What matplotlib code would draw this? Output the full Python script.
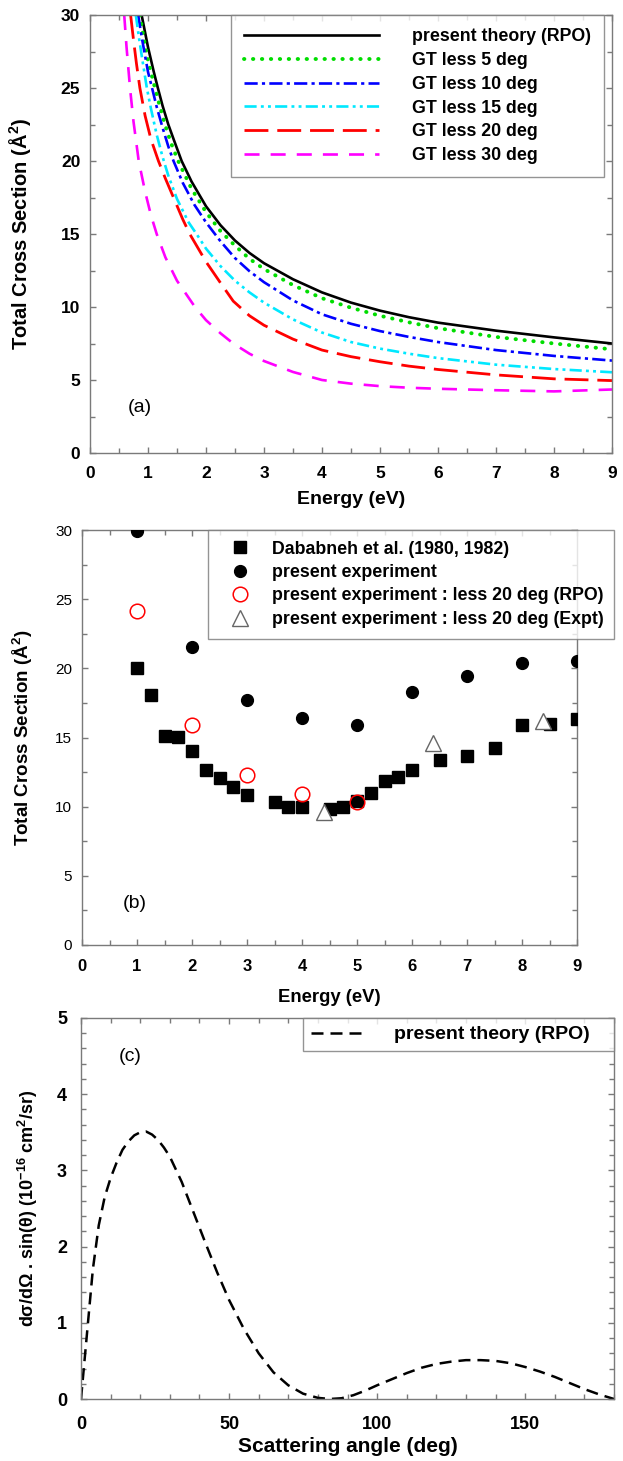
import numpy as np
import matplotlib
matplotlib.use("Agg")
import matplotlib.pyplot as plt
from matplotlib.ticker import MultipleLocator

plt.rcParams['font.family'] = ['Liberation Sans', 'DejaVu Sans']
plt.rcParams['mathtext.fontset'] = 'custom'
plt.rcParams['mathtext.rm'] = 'Liberation Sans'
plt.rcParams['mathtext.bf'] = 'Liberation Sans:bold'
plt.rcParams['mathtext.it'] = 'Liberation Sans:italic'

# ---- panel (a): total cross section, theory curves
e_rpo = [0.89, 0.95, 1.0, 1.1, 1.17, 1.25, 1.35, 1.45, 1.58, 1.75, 2.0, 2.25, 2.5, 2.75, 3.0,
         3.5, 4.0, 4.5, 5.0, 5.5, 6.0, 7.0, 8.0, 9.0]
cs_rpo = [30.0, 28.8, 27.8, 26.1, 25.0, 23.8, 22.5, 21.4, 20.0, 18.6, 16.9, 15.6, 14.55, 13.7,
          13.0, 11.9, 11.0, 10.3, 9.75, 9.3, 8.93, 8.38, 7.92, 7.5]

e_gt5 = [0.86, 0.9, 0.95, 1.0, 1.12, 1.2, 1.3, 1.4, 1.52, 1.75, 2.0, 2.25, 2.5, 2.75, 3.0, 3.5,
         4.0, 4.5, 5.0, 5.5, 6.0, 7.0, 8.0, 9.0]
cs_gt5 = [30.0, 29.0, 27.9, 26.9, 25.0, 23.8, 22.4, 21.2, 20.0, 18.1, 16.5, 15.2, 14.2, 13.3,
          12.6, 11.5, 10.6, 9.95, 9.4, 8.95, 8.55, 7.95, 7.5, 7.1]

e_gt10 = [0.83, 0.9, 1.0, 1.07, 1.15, 1.25, 1.35, 1.44, 1.6, 1.8, 2.0, 2.25, 2.5, 2.75, 3.0,
          3.5, 4.0, 4.5, 5.0, 5.5, 6.0, 7.0, 8.0, 9.0]
cs_gt10 = [30.0, 28.3, 26.1, 25.0, 23.7, 22.3, 21.0, 20.0, 18.5, 17.0, 15.8, 14.5, 13.35, 12.45,
           11.7, 10.45, 9.5, 8.85, 8.35, 7.95, 7.6, 7.05, 6.65, 6.33]

e_gt15 = [0.79, 0.85, 0.9, 0.98, 1.05, 1.15, 1.25, 1.35, 1.5, 1.7, 1.87, 2.0, 2.25, 2.5, 2.75,
          3.0, 3.5, 4.0, 4.5, 5.0, 5.5, 6.0, 7.0, 8.0, 9.0]
cs_gt15 = [30.0, 28.3, 27.0, 25.0, 23.6, 21.8, 20.3, 19.0, 17.4, 15.8, 14.8, 14.0, 12.8, 11.8,
           11.0, 10.3, 9.15, 8.25, 7.6, 7.15, 6.8, 6.5, 6.05, 5.75, 5.53]

e_gt20 = [0.7, 0.75, 0.8, 0.86, 0.95, 1.05, 1.18, 1.3, 1.45, 1.6, 1.72, 2.0, 2.25, 2.47, 2.75,
          3.0, 3.5, 4.0, 4.5, 5.0, 5.5, 6.0, 7.0, 8.0, 9.0]
cs_gt20 = [30.0, 28.3, 26.7, 25.0, 23.1, 21.5, 20.0, 18.8, 17.4, 16.0, 15.0, 13.1, 11.65, 10.4,
           9.4, 8.75, 7.8, 7.05, 6.6, 6.25, 5.95, 5.72, 5.35, 5.08, 4.96]

e_gt30 = [0.59, 0.63, 0.69, 0.75, 0.84, 0.95, 1.05, 1.15, 1.3, 1.5, 1.81, 2.0, 2.25, 2.47, 2.75,
          3.0, 3.5, 4.0, 4.5, 5.0, 5.5, 6.0, 7.0, 8.0, 9.0]
cs_gt30 = [30.0, 27.8, 25.0, 22.7, 20.0, 17.9, 16.3, 15.0, 13.4, 11.8, 10.0, 9.1, 8.2, 7.5, 6.8,
           6.3, 5.55, 5.0, 4.75, 4.58, 4.47, 4.4, 4.3, 4.22, 4.35]

# ---- panel (b): measurements
e_dab = [1.0, 1.25, 1.5, 1.75, 2.0, 2.25, 2.5, 2.75, 3.0, 3.5, 3.75, 4.0, 4.5, 4.75,
         5.0, 5.25, 5.5, 5.75, 6.0, 6.5, 7.0, 7.5, 8.0, 8.5, 9.0]
cs_dab = [20.05, 18.05, 15.14, 15.07, 14.04, 12.64, 12.1, 11.4, 10.87, 10.36, 9.95, 9.95, 9.8, 9.95,
          10.4, 10.96, 11.85, 12.16, 12.64, 13.37, 13.65, 14.25, 15.87, 15.96, 16.35]

e_exp = [1, 2, 3, 4, 5, 6, 7, 8, 9]
cs_exp = [29.9, 21.54, 17.7, 16.4, 15.87, 18.27, 19.45, 20.38, 20.55]

e_rpo20 = [1, 2, 3, 4, 5]
cs_rpo20 = [24.16, 15.87, 12.28, 10.91, 10.34]

e_expt20 = [4.4, 6.39, 8.39]
cs_expt20 = [9.64, 14.57, 16.2]

# ---- panel (c): differential cross section * sin(theta)
theta = [0, 2, 4, 6, 8, 10, 12, 14, 16, 18, 20, 22, 24, 26, 28, 30, 34, 38, 42, 46, 50,
         55, 60, 65, 70, 75, 80, 84, 88, 92, 96, 100, 105, 110, 115, 120, 125, 130, 135,
         140, 145, 150, 155, 160, 165, 170, 175, 180]
dcs = [0.0, 0.85, 1.7, 2.28, 2.65, 2.9, 3.1, 3.27, 3.38, 3.46, 3.5, 3.51, 3.47, 3.4, 3.3,
       3.18, 2.85, 2.45, 2.05, 1.66, 1.3, 0.92, 0.6, 0.35, 0.18, 0.07, 0.015, 0.0, 0.01,
       0.05, 0.11, 0.18, 0.26, 0.34, 0.41, 0.46, 0.49, 0.51, 0.51, 0.5, 0.47, 0.42, 0.36,
       0.29, 0.21, 0.13, 0.06, 0.0]

spine_col = '#7a7a7a'


def style_axes(ax, xmaj, xmin, ymaj, ymin, xpad, ypad):
    for s in ax.spines.values():
        s.set_color(spine_col)
        s.set_linewidth(1.0)
    ax.xaxis.set_major_locator(MultipleLocator(xmaj))
    ax.xaxis.set_minor_locator(MultipleLocator(xmin))
    ax.yaxis.set_major_locator(MultipleLocator(ymaj))
    ax.yaxis.set_minor_locator(MultipleLocator(ymin))
    ax.tick_params(which='both', direction='in', top=True, right=True, color=spine_col, width=1.0)
    ax.tick_params(which='major', length=4)
    ax.tick_params(which='minor', length=3.5)
    ax.tick_params(axis='x', which='major', pad=xpad)
    ax.tick_params(axis='y', which='major', pad=ypad)


def frame(leg):
    leg.get_frame().set_edgecolor(spine_col)
    leg.get_frame().set_linewidth(1.0)


fig = plt.figure(figsize=(6.23, 14.61), dpi=100)

# ---------------- (a)
ax1 = fig.add_axes([90 / 623, 1 - 453 / 1461, 522 / 623, 438 / 1461])
ax1.plot(e_rpo, cs_rpo, color='black', lw=1.9, label='present theory (RPO)')
ax1.plot(e_gt5, cs_gt5, color='#00dd00', lw=2.8, dashes=(0.1, 2.2), dash_capstyle='round',
         label='GT less 5 deg')
ax1.plot(e_gt10, cs_gt10, color='#0000ff', lw=1.9, dashes=(5, 1.6, 1.2, 1.6), label='GT less 10 deg')
ax1.plot(e_gt15, cs_gt15, color='#00e8ff', lw=1.9, dashes=(4.6, 1.6, 1.1, 1.6, 1.1, 1.6),
         label='GT less 15 deg')
ax1.plot(e_gt20, cs_gt20, color='#ff0000', lw=2.0, dashes=(8.6, 3.2), label='GT less 20 deg')
ax1.plot(e_gt30, cs_gt30, color='#ff00ff', lw=1.9, dashes=(5.7, 4.2), label='GT less 30 deg')
ax1.set_xlim(0, 9)
ax1.set_ylim(0, 30)
style_axes(ax1, 1, 0.5, 5, 2.5, 9, 7)
for lab in ax1.get_xticklabels() + ax1.get_yticklabels():
    lab.set_fontsize(12.5)
    lab.set_fontweight('bold')
ax1.set_xlabel('Energy (eV)', fontsize=14, fontweight='bold')
ax1.set_ylabel(r'Total Cross Section (Å$^\mathbf{2}$)', fontsize=14.5, fontweight='bold')
ax1.xaxis.set_label_coords(0.5, -0.087)
ax1.yaxis.set_label_coords(-0.109, 0.5)
ax1.text(0.073, 0.105, '(a)', transform=ax1.transAxes, fontsize=14, va='center', ha='left')
leg1 = ax1.legend(loc='upper right', bbox_to_anchor=(0.985, 1.0), borderaxespad=0,
                  prop={'weight': 'bold', 'size': 12.8}, handlelength=7.6, handletextpad=1.85,
                  labelspacing=0.38, borderpad=0.75, fancybox=False)
frame(leg1)

# ---------------- (b)
ax2 = fig.add_axes([82 / 623, 1 - 945 / 1461, 495 / 623, 415 / 1461])
ax2.plot(e_dab, cs_dab, ls='none', marker='s', ms=8, color='black', label='Dababneh et al. (1980, 1982)',
         zorder=3)
ax2.plot(e_exp, cs_exp, ls='none', marker='o', ms=8.5, color='black', label='present experiment',
         zorder=3)
ax2.plot(e_rpo20, cs_rpo20, ls='none', marker='o', ms=10.5, mfc='none', mec='#ff0000', mew=1.1,
         label='present experiment : less 20 deg (RPO)', zorder=4)
ax2.plot(e_expt20, cs_expt20, ls='none', marker='^', ms=11, mfc='white', mec='#666666', mew=1.0,
         label='present experiment : less 20 deg (Expt)', zorder=4)
ax2.set_xlim(0, 9)
ax2.set_ylim(0, 30)
style_axes(ax2, 1, 0.5, 5, 2.5, 10, 7)
for lab in ax2.get_xticklabels():
    lab.set_fontsize(12)
    lab.set_fontweight('bold')
for lab in ax2.get_yticklabels():
    lab.set_fontsize(11)
ax2.set_xlabel('Energy (eV)', fontsize=13.3, fontweight='bold')
ax2.set_ylabel(r'Total Cross Section (Å$^\mathbf{2}$)', fontsize=13.5, fontweight='bold')
ax2.xaxis.set_label_coords(0.5, -0.105)
ax2.yaxis.set_label_coords(-0.095, 0.5)
ax2.text(0.083, 0.099, '(b)', transform=ax2.transAxes, fontsize=14, va='center', ha='left')
leg2 = ax2.legend(loc='upper right', bbox_to_anchor=(1.075, 1.0), borderaxespad=0,
                  prop={'weight': 'bold', 'size': 12.8}, handlelength=2.36, handletextpad=0.62,
                  labelspacing=0.36, borderpad=0.6, fancybox=False, numpoints=1)
frame(leg2)

# ---------------- (c)
ax3 = fig.add_axes([81 / 623, 1 - 1399 / 1461, 533 / 623, 381 / 1461])
ax3.plot(theta, dcs, color='black', lw=1.8, dashes=(4.8, 2.8), label='present theory (RPO)   ')
ax3.set_xlim(0, 180)
ax3.set_ylim(0, 5)
style_axes(ax3, 50, 10, 1, 0.2, 12, 10)
for lab in ax3.get_xticklabels() + ax3.get_yticklabels():
    lab.set_fontsize(13)
    lab.set_fontweight('bold')
ax3.set_xlabel('Scattering angle (deg)', fontsize=15, fontweight='bold')
ax3.set_ylabel(r'd$\mathbf{\sigma}$/d$\mathbf{\Omega}$ . sin($\mathbf{\theta}$) '
               r'(10$^\mathbf{-16}$ cm$^\mathbf{2}$/sr)', fontsize=13, fontweight='bold')
ax3.xaxis.set_label_coords(0.5, -0.1)
ax3.yaxis.set_label_coords(-0.077, 0.5)
ax3.text(0.071, 0.898, '(c)', transform=ax3.transAxes, fontsize=14, va='center', ha='left')
leg3 = ax3.legend(loc='upper right', bbox_to_anchor=(1.0, 1.0), borderaxespad=0,
                  prop={'weight': 'bold', 'size': 14}, handlelength=2.6, handletextpad=1.7,
                  borderpad=0.4, fancybox=False)
frame(leg3)

fig.savefig('out.png', dpi=100)
